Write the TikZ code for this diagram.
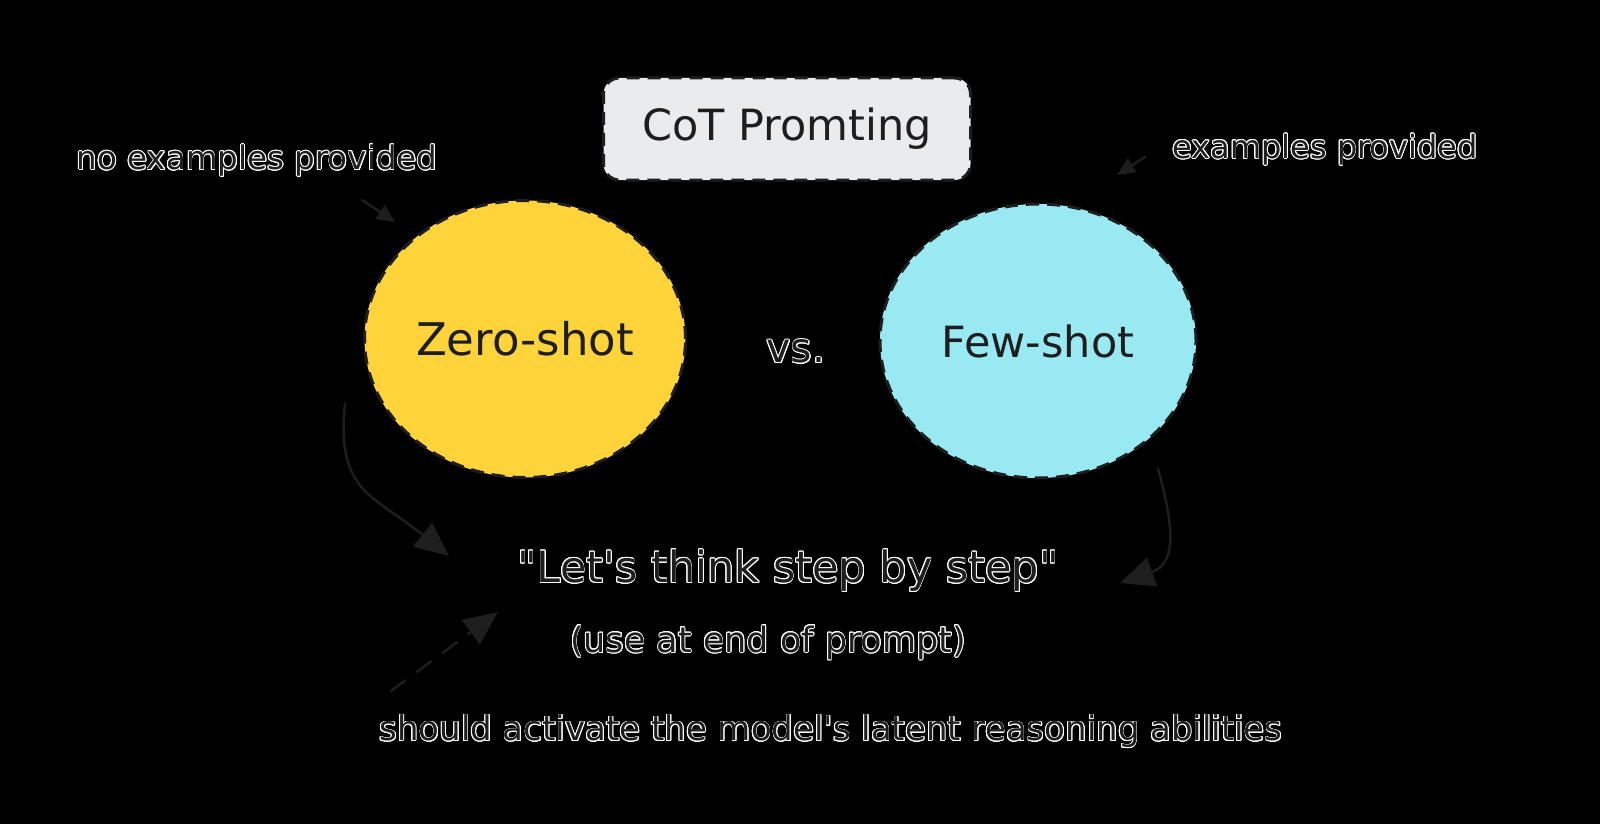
\documentclass[tikz,border=0pt]{standalone}
\usepackage{fontspec}
\setmainfont{DejaVu Sans}
\usepackage{contour}
\contourlength{0.8pt}
\usetikzlibrary{positioning,shapes.geometric,arrows.meta}
\definecolor{ink}{HTML}{1E1E1E}
\definecolor{sunny}{HTML}{FFD43B}
\definecolor{skyish}{HTML}{99E9F2}
\definecolor{boxgray}{HTML}{E9ECEF}
\tikzset{>={Triangle[length=34pt,width=30pt]}}
\tikzset{
  sketch/.style={draw=ink, line width=3pt, dash pattern=on 13pt off 8pt},
  blob/.style={sketch, ellipse, inner sep=0pt, text=ink},
  note/.style={text=ink, inner sep=0pt},
  link/.style={->, draw=ink, line width=2.5pt, line cap=round},
  pointer/.style={-{Triangle[length=18pt,width=16pt]}, draw=ink, line width=2.5pt, line cap=round},
}
\NewDocumentCommand\halo{m}{\contour{white}{#1}}

\begin{document}
\begin{tikzpicture}[x=1pt,y=-1pt]
    \fill[black] (0,0) rectangle (1600,824);
    \useasboundingbox (0,0) rectangle (1600,824);

    \node[sketch, fill=boxgray, rounded corners=16pt, minimum width=367pt, minimum height=102pt,
          text=ink, font=\fontsize{43}{50}\selectfont] (title) at (787,129) {CoT Promting};

    \node[blob, fill=sunny, minimum width=321pt, minimum height=277pt,
          font=\fontsize{45}{52}\selectfont] (zero) at (525,339) {Zero-shot};
    \node[blob, fill=skyish, minimum width=316pt, minimum height=274pt,
          font=\fontsize{43}{50}\selectfont] (few) at (1038,341) {Few-shot};
    \node[note, font=\fontsize{41}{48}\selectfont] (vs) at (796,352) {\halo{vs.}};

    \node[note, font=\fontsize{32.5}{38}\selectfont] (noex) at (257,161) {\halo{no examples provided}};
    \node[note, font=\fontsize{32}{38}\selectfont] (withex) at (1325,150) {\halo{examples provided}};

    \node[note, font=\fontsize{43}{50}\selectfont] (quote) at (788,571)
      {\halo{\textquotedbl Let\textquotesingle s think step by step\textquotedbl}};
    \node[note, font=\fontsize{35}{42}\selectfont] (usage) at (768,643) {\halo{(use at end of prompt)}};
    \node[note, font=\fontsize{34}{40}\selectfont] (latent) at (831,732)
      {\halo{should activate the model\textquotesingle s latent reasoning abilities}};

    % arrow ends
    \coordinate (noex-tail) at (362,200);
    \coordinate (noex-tip) at (395,222);
    \coordinate (withex-tail) at (1145,157);
    \coordinate (withex-tip) at (1117,175);
    \coordinate (zero-tail) at (345,403);
    \coordinate (quote-left) at (449,556);
    \coordinate (few-tail) at (1158,469);
    \coordinate (quote-right) at (1120,583);
    \coordinate (latent-tail) at (391,691);
    \coordinate (quote-below) at (498,612);

    \draw[pointer] (noex-tail) -- (noex-tip);
    \draw[pointer] (withex-tail) -- (withex-tip);
    \draw[link] (zero-tail) .. controls (336,492) and (372,494) .. (quote-left);
    \draw[link] (few-tail) .. controls (1178,540) and (1172,565) .. (quote-right);
    \draw[link, dash pattern=on 18pt off 14pt] (latent-tail) -- (quote-below);
\end{tikzpicture}
\end{document}
